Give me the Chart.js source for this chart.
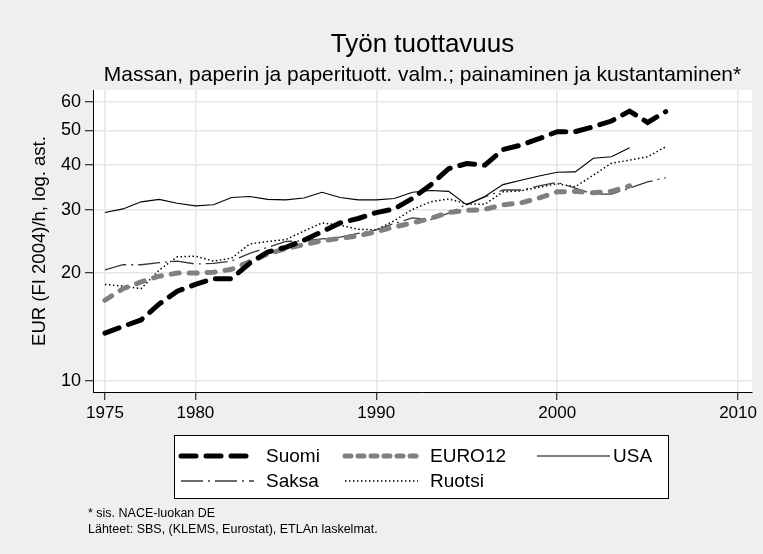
<!DOCTYPE html>
<html>
<head>
<meta charset="utf-8">
<script src="https://cdn.jsdelivr.net/npm/chart.js@4/dist/chart.umd.min.js"></script>
<style>
  html, body { margin: 0; padding: 0; background: #efefef; }
  #wrap { width: 763px; height: 554px; }
</style>
</head>
<body>
<div id="wrap"><canvas id="chart" width="763" height="554"></canvas></div>
<script>
const years = [1975, 1976, 1977, 1978, 1979, 1980, 1981, 1982, 1983, 1984, 1985, 1986, 1987, 1988, 1989, 1990,
    1991, 1992, 1993, 1994, 1995, 1996, 1997, 1998, 1999, 2000, 2001, 2002, 2003, 2004, 2005, 2006];

const suomi = [13.6, 14.2, 14.8, 16.4, 17.8, 18.6, 19.3, 19.3, 21.3, 22.9, 23.6, 24.7, 26.1, 27.6, 28.4, 29.5,
    30.2, 32.3, 35.2, 39.1, 40.4, 40.0, 44.2, 45.5, 47.4, 49.6, 49.6, 51.2, 53.1, 56.6, 52.6, 56.4];
const euro12 = [16.8, 18.1, 18.9, 19.6, 20.0, 20.0, 20.1, 20.5, 21.5, 22.6, 23.4, 24.0, 24.6, 25.0, 25.4, 26.1,
    26.9, 27.6, 28.4, 29.5, 29.9, 30.1, 31.0, 31.4, 32.4, 33.7, 33.8, 33.5, 33.8, 35.0, null, null];
const usa = [29.5, 30.2, 31.6, 32.1, 31.3, 30.8, 31.0, 32.5, 32.7, 32.1, 32.0, 32.4, 33.6, 32.5, 32.0, 32.0,
    32.3, 33.6, 34.0, 33.8, 31.0, 32.7, 35.3, 36.3, 37.3, 38.2, 38.3, 41.8, 42.2, 44.7, null, null];
const saksa = [20.4, 21.1, 21.1, 21.4, 21.6, 21.2, 21.3, 21.6, 22.7, 23.6, 24.5, 24.6, 24.9, 25.2, 25.8, 26.4,
    27.5, 28.5, 28.2, 29.4, 31.1, 32.6, 34.1, 34.1, 35.0, 35.8, 34.5, 33.2, 33.2, 34.5, 35.9, 36.9];
const ruotsi = [18.6, 18.4, 18.1, 20.4, 22.2, 22.3, 21.6, 22.0, 24.1, 24.5, 24.8, 26.2, 27.6, 27.2, 26.5, 26.4,
    28.0, 30.1, 31.6, 32.2, 31.2, 31.1, 33.7, 33.9, 34.7, 35.5, 34.8, 37.5, 40.5, 41.3, 42.2, 45.0];

const xTicks = [1975, 1980, 1990, 2000, 2010];
const yTicks = [10, 20, 30, 40, 50, 60];

const titleText = 'Työn tuottavuus';
const subtitleText = 'Massan, paperin ja paperituott. valm.; painaminen ja kustantaminen*';
const yTitle = 'EUR (FI 2004)/h, log. ast.';
const notes = ['* sis. NACE-luokan DE', 'Lähteet: SBS, (KLEMS, Eurostat), ETLAn laskelmat.'];

const FONT = '"Liberation Sans", Arial, Helvetica, sans-serif';

function toPoints(values) {
    return years.map((yr, i) => ({ x: yr, y: values[i] }));
}

// backgrounds: grey page, white plot region
const backgroundPlugin = {
    id: 'backgrounds',
    beforeDraw(chart) {
        const { ctx, chartArea } = chart;
        ctx.save();
        ctx.fillStyle = '#efefef';
        ctx.fillRect(0, 0, chart.width, chart.height);
        ctx.fillStyle = '#ffffff';
        ctx.fillRect(chartArea.left, chartArea.top, chartArea.right - chartArea.left, chartArea.bottom - chartArea.top);
        ctx.restore();
    }
};

// titles, legend box and source notes
const decorPlugin = {
    id: 'decor',
    afterDraw(chart) {
        const { ctx, chartArea } = chart;
        const cx = (chartArea.left + chartArea.right) / 2;
        ctx.save();
        ctx.fillStyle = '#000';
        ctx.textAlign = 'center';
        ctx.textBaseline = 'middle';
        ctx.font = '26px ' + FONT;
        ctx.fillText(titleText, cx, 45);
        ctx.font = '21px ' + FONT;
        ctx.fillText(subtitleText, cx, 75);

        // legend
        const box = { x: 174, y: 435, w: 494, h: 63 };
        ctx.fillStyle = '#fff';
        ctx.fillRect(box.x, box.y, box.w, box.h);
        ctx.strokeStyle = '#000';
        ctx.lineWidth = 1;
        ctx.setLineDash([]);
        ctx.strokeRect(box.x + 0.5, box.y + 0.5, box.w, box.h);

        const slots = [
            { x: 181, y: 456 }, { x: 345, y: 456 }, { x: 537, y: 456 },
            { x: 181, y: 481 }, { x: 345, y: 481 }
        ];
        ctx.font = '19px ' + FONT;
        ctx.textAlign = 'left';
        chart.data.datasets.forEach((ds, i) => {
            const s = slots[i];
            ctx.save();
            ctx.strokeStyle = ds.borderColor;
            ctx.lineWidth = ds.borderWidth;
            ctx.lineCap = ds.borderCapStyle || 'butt';
            ctx.setLineDash(ds.legendDash || ds.borderDash || []);
            ctx.beginPath();
            ctx.moveTo(s.x, s.y);
            ctx.lineTo(s.x + 73, s.y);
            ctx.stroke();
            ctx.restore();
            ctx.fillStyle = '#000';
            ctx.fillText(ds.label, i === 2 ? s.x + 76 : s.x + 85, s.y + 1);
        });

        ctx.font = '12.5px ' + FONT;
        ctx.fillText(notes[0], 88, 514);
        ctx.fillText(notes[1], 88, 530);
        ctx.restore();
    }
};

const ctx = document.getElementById('chart').getContext('2d');
new Chart(ctx, {
    type: 'line',
    data: {
        datasets: [
            {
                label: 'Suomi', data: toPoints(suomi),
                borderColor: '#000000', borderWidth: 5, borderDash: [15, 10], borderCapStyle: 'round',
                legendDash: [15, 10]
            },
            {
                label: 'EURO12', data: toPoints(euro12),
                borderColor: '#808080', borderWidth: 5, borderDash: [8, 10], borderCapStyle: 'round',
                legendDash: [6, 7]
            },
            {
                label: 'USA', data: toPoints(usa),
                borderColor: '#000000', borderWidth: 1.1
            },
            {
                label: 'Saksa', data: toPoints(saksa),
                borderColor: '#3a3a3a', borderWidth: 1.3, borderDash: [22, 5, 2, 5]
            },
            {
                label: 'Ruotsi', data: toPoints(ruotsi),
                borderColor: '#000000', borderWidth: 1.5, borderDash: [1.5, 2.5]
            }
        ]
    },
    options: {
        responsive: false,
        animation: false,
        spanGaps: false,
        elements: { point: { radius: 0 }, line: { tension: 0, fill: false } },
        layout: { padding: { top: 90, right: 11, bottom: 122, left: 0 } },
        plugins: {
            legend: { display: false },
            title: { display: false },
            tooltip: { enabled: false }
        },
        scales: {
            x: {
                type: 'linear',
                min: 1974.34,
                max: 2010.77,
                afterBuildTicks: scale => { scale.ticks = xTicks.map(v => ({ value: v })); },
                afterFit: scale => { scale.height = 40; },
                grid: { color: '#e6e6e6', lineWidth: 1.5, tickColor: '#000', tickLength: 8, tickWidth: 1 },
                border: { display: true, color: '#000', width: 1 },
                ticks: {
                    autoSkip: false, maxRotation: 0, padding: 3, color: '#000',
                    font: { family: FONT, size: 17 },
                    callback: v => String(v)
                }
            },
            y: {
                type: 'logarithmic',
                min: 9.32,
                max: 64.8,
                afterBuildTicks: scale => { scale.ticks = yTicks.map(v => ({ value: v })); },
                afterFit: scale => { scale.width = 93; },
                grid: { color: '#e6e6e6', lineWidth: 1.5, tickColor: '#000', tickLength: 8, tickWidth: 1 },
                border: { display: true, color: '#000', width: 1 },
                ticks: {
                    autoSkip: false, padding: 4, color: '#000',
                    font: { family: FONT, size: 18 },
                    callback: v => String(v)
                },
                title: {
                    display: true, text: yTitle, color: '#000',
                    font: { family: FONT, size: 18.5 },
                    padding: { top: 29, bottom: 0 }
                }
            }
        }
    },
    plugins: [backgroundPlugin, decorPlugin]
});
</script>
</body>
</html>
